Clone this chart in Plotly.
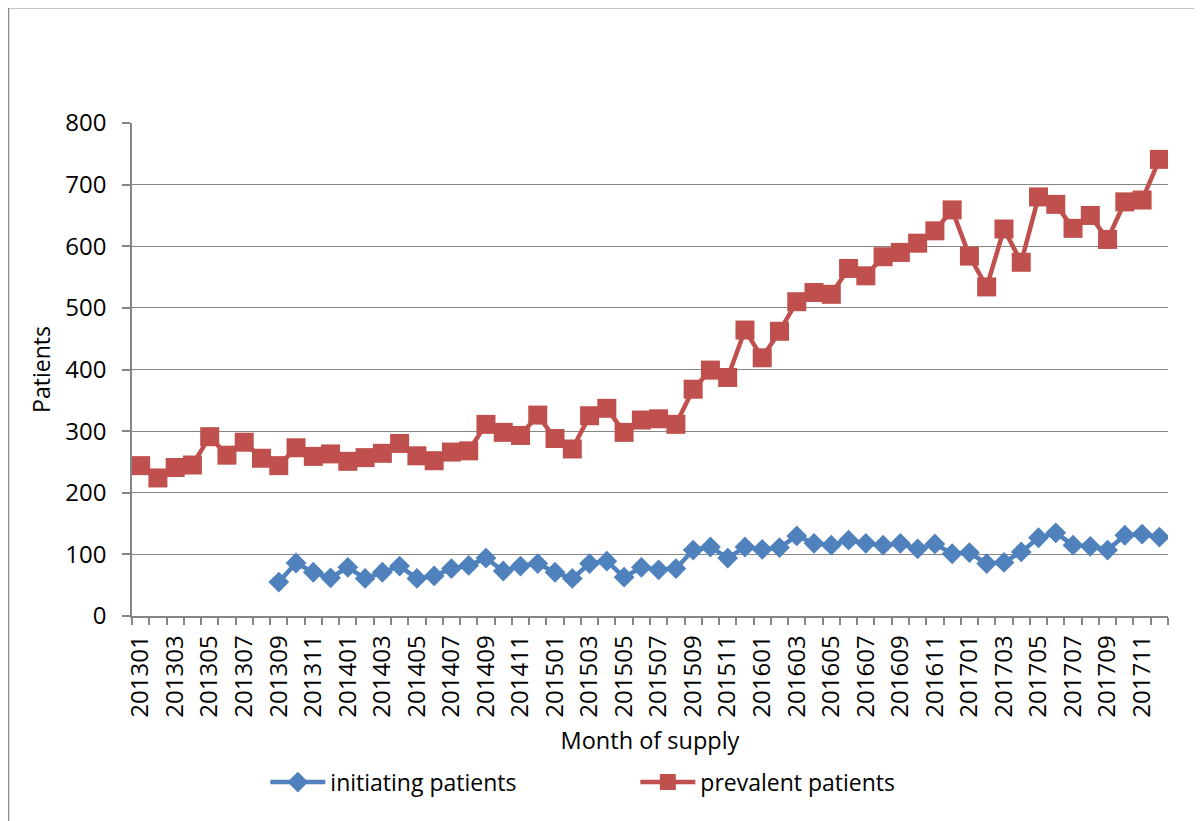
import plotly.graph_objects as go

# ---- data ----
months = [f"{y}{m:02d}" for y in range(2013, 2018) for m in range(1, 13)]

initiating = [None, None, None, None, None, None, None, None,
              55, 86, 71, 62, 79, 61, 71, 81, 61, 65, 77, 82,
              94, 73, 81, 85, 71, 61, 85, 89, 63, 79, 75, 77,
              107, 112, 94, 112, 108, 111, 130, 118, 115, 123, 118, 115,
              118, 109, 117, 101, 103, 85, 87, 104, 127, 135, 115, 113,
              107, 131, 133, 128]

prevalent = [244, 224, 241, 245, 291, 261, 282, 256, 244, 273, 259, 263,
             251, 257, 264, 280, 260, 252, 266, 268, 311, 298, 293, 326,
             288, 271, 325, 337, 298, 318, 320, 311, 368, 399, 387, 464,
             419, 462, 510, 525, 522, 564, 552, 583, 590, 605, 625, 659,
             584, 534, 628, 574, 680, 668, 629, 650, 611, 672, 675, 741]

tick_labels = months[::2]
y_ticks = [0, 100, 200, 300, 400, 500, 600, 700, 800]

series_names = ["initiating patients", "prevalent patients"]
colors = ["#4F81BD", "#C0504D"]

# ---- figure ----
xpos = list(range(len(months)))
FONT = "Open Sans"
GRID = "#868686"

fig = go.Figure()
fig.add_trace(go.Scatter(
    x=xpos, y=initiating, name=series_names[0], mode="lines+markers",
    line=dict(color=colors[0], width=4.5),
    marker=dict(symbol="diamond", size=16, color=colors[0]),
    hovertext=months, connectgaps=False,
))
fig.add_trace(go.Scatter(
    x=xpos, y=prevalent, name=series_names[1], mode="lines+markers",
    line=dict(color=colors[1], width=4.5),
    marker=dict(symbol="square", size=19, color=colors[1]),
    hovertext=months,
))

fig.update_layout(
    width=1194, height=813,
    margin=dict(l=124, r=34, t=115, b=205),
    paper_bgcolor="white", plot_bgcolor="white",
    font=dict(family=FONT, size=23, color="black"),
    showlegend=True,
    legend=dict(orientation="h", x=0.1287, xanchor="left", y=-0.337, yanchor="middle",
                font=dict(size=23), entrywidth=300, itemwidth=55,
                bgcolor="rgba(0,0,0,0)"),
    xaxis=dict(
        range=[-0.5, len(months) - 0.5],
        tickmode="array", tickvals=xpos[::2], ticktext=tick_labels,
        tickangle=-90, ticks="outside", ticklen=8, tickcolor="rgba(0,0,0,0)",
        showgrid=False, zeroline=False,
        showline=True, linecolor=GRID, linewidth=1.5,
        minor=dict(tickmode="linear", tick0=-0.5, dtick=1, ticks="outside",
                   ticklen=7, tickcolor=GRID, tickwidth=1.5, showgrid=False),
        title=dict(text="Month of supply", font=dict(size=23.5), standoff=16),
        tickfont=dict(size=24),
    ),
    yaxis=dict(
        range=[0, 800], tickmode="array", tickvals=y_ticks,
        ticks="outside", ticklen=8, tickcolor=GRID, tickwidth=1.5,
        showgrid=True, gridcolor=GRID, gridwidth=1.3,
        zeroline=False, showline=True, linecolor=GRID, linewidth=1.5,
        ticklabelstandoff=11,
        title=dict(text="Patients", font=dict(size=23), standoff=8),
        tickfont=dict(size=24),
    ),
    shapes=[dict(type="rect", xref="paper", yref="paper",
                 x0=-0.1192, x1=1.0318, y0=-0.45, y1=1.2337,
                 line=dict(color="#8c8c8c", width=1.5), layer="below")],
)

fig.write_html("out.html")
